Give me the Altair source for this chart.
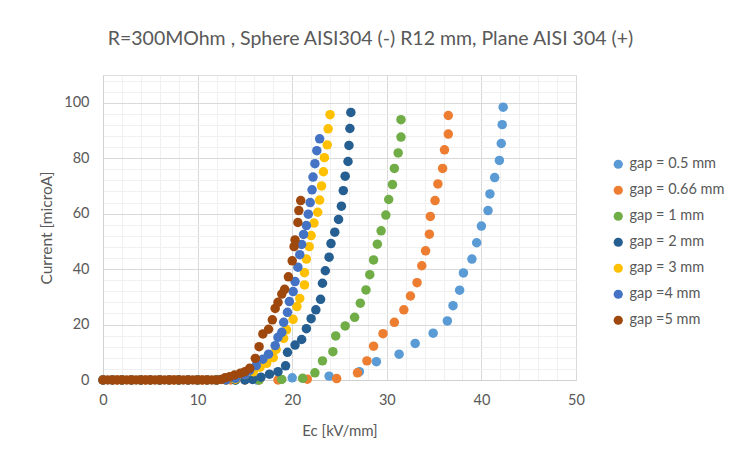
import altair as alt
import pandas as pd

series_names = ["gap = 0.5 mm", "gap = 0.66 mm", "gap = 1 mm", "gap = 2 mm",
                "gap = 3 mm", "gap =4 mm", "gap =5 mm"]
series_colors = ["#5B9BD5", "#ED7D31", "#70AD47", "#255E91", "#FFC000", "#4472C4", "#9E480E"]

# gap = 0.5 mm
x_05 = [0, 2, 4, 6, 8, 10, 12, 14, 16.3, 20.0, 23.9, 27.1, 28.9, 31.3, 33.0, 34.9, 36.4, 37.0,
        37.7, 38.1, 39.0, 39.5, 40.0, 40.7, 40.9, 41.4, 41.9, 42.1, 42.2, 42.3]
y_05 = [0, 0, 0, 0, 0, 0, 0, 0, 0, 0.8, 1.4, 3.0, 6.6, 9.3, 13.2, 16.9, 21.3, 26.8,
        32.4, 38.6, 43.6, 49.5, 55.5, 61.1, 67.1, 73.0, 79.2, 85.3, 92.1, 98.4]
# gap = 0.66 mm
x_066 = [0, 1.5, 3, 4.5, 6, 7.5, 9, 10.5, 12, 13.5, 15, 16.5, 18.5, 21.6, 24.7, 26.9, 27.9,
         28.6, 29.6, 30.8, 31.8, 32.5, 33.2, 33.7, 34.1, 34.5, 34.6, 35.1, 35.4, 35.9, 36.1,
         36.5, 36.5]
y_066 = [0, 0, 0, 0, 0, 0, 0, 0, 0, 0, 0, 0, 0, 0.3, 0.5, 2.6, 6.9,
         12.2, 16.7, 20.8, 25.3, 30.3, 35.1, 41.2, 46.6, 52.6, 59.0, 64.7, 70.7, 76.3, 83.0,
         88.7, 95.4]
# gap = 1 mm
x_1 = [0, 2, 4, 6, 8, 10, 12, 14, 16.5, 18.9, 21.1, 22.4, 23.2, 24.3, 24.6, 25.6, 26.6, 27.2,
       27.8, 28.2, 28.6, 29.0, 29.4, 29.9, 30.2, 30.6, 30.8, 31.2, 31.5, 31.5]
y_1 = [0, 0, 0, 0, 0, 0, 0, 0, 0, 0.2, 0.6, 2.6, 6.9, 10.2, 15.9, 19.5, 22.6, 27.7,
       32.5, 38.0, 43.3, 49.0, 53.8, 59.5, 65.1, 70.5, 76.3, 81.9, 87.6, 93.9]
# gap = 2 mm
x_2 = [0, 1, 2, 3, 4, 5, 6, 7, 8, 9, 10, 11, 12, 13, 14, 15, 15.8, 16.7, 17.6, 18.5, 19.3,
       19.5, 20.3, 21.0, 21.5, 22.0, 22.5, 23.0, 23.2, 23.5, 23.9, 24.1, 24.5, 24.9, 25.2,
       25.4, 25.6, 25.9, 26.0, 26.1, 26.2]
y_2 = [0, 0, 0, 0, 0, 0, 0, 0, 0, 0, 0, 0, 0, 0, 0, 0, 0.2, 1.0, 2.1, 3.0, 5.1,
       10.0, 12.6, 14.6, 18.5, 22.1, 25.3, 29.1, 34.9, 39.4, 44.3, 49.2, 53.3, 57.9, 62.7,
       68.3, 73.5, 78.8, 84.6, 90.7, 96.5]
# gap = 3 mm
x_3 = [0, 1, 2, 3, 4, 5, 6, 7, 8, 9, 10, 11, 12, 13, 14, 15.0, 15.9, 16.6, 17.3, 18.0, 18.3,
       19.1, 19.4, 20.1, 20.5, 20.8, 21.3, 21.3, 21.5, 21.8, 22.0, 22.3, 22.7, 22.9, 23.1,
       23.3, 23.4, 23.7, 23.8, 24.0]
y_3 = [0, 0, 0, 0, 0, 0, 0, 0, 0, 0, 0, 0, 0, 0, 0.3, 2.0, 3.0, 4.6, 6.0, 8.1, 11.0,
       15.0, 18.1, 21.9, 26.5, 29.4, 34.3, 38.7, 43.6, 48.1, 52.1, 56.6, 60.5, 64.9, 70.0,
       75.1, 80.2, 84.8, 90.6, 95.7]
# gap = 4 mm
x_4 = [0, 1, 2, 3, 4, 5, 6, 7, 8, 9, 10, 11, 12, 13, 14, 15.0, 15.5, 16.2, 16.9, 17.5, 18.2,
       18.5, 18.9, 19.1, 19.5, 19.7, 20.1, 20.3, 20.6, 20.8, 21.0, 21.2, 21.5, 21.7, 21.9,
       22.1, 22.2, 22.4, 22.6, 22.9]
y_4 = [0, 0, 0, 0, 0, 0, 0, 0, 0, 0, 0, 0, 0, 0, 0.6, 2.0, 3.5, 5.2, 7.5, 9.3, 12.4,
       15.4, 17.2, 20.8, 24.4, 28.3, 31.9, 35.5, 40.7, 45.2, 48.9, 52.5, 55.7, 59.8, 64.0,
       68.6, 73.2, 78.0, 82.7, 87.0]
# gap = 5 mm
x_5 = [0, 0.5, 1, 1.5, 2, 2.5, 3, 3.5, 4, 4.5, 5, 5.5, 6, 6.5, 7, 7.5, 8, 8.5, 9, 9.5, 10,
       10.5, 11, 11.5, 12, 12.5, 12.9, 13.4, 13.9, 14.5, 15.0, 15.5, 16.1, 16.5, 16.9, 17.5,
       17.9, 18.2, 18.5, 18.9, 19.2, 19.6, 20.0, 20.2, 20.3, 20.6, 20.7, 20.9]
y_5 = [0, 0, 0, 0, 0, 0, 0, 0, 0, 0, 0, 0, 0, 0, 0, 0, 0, 0, 0, 0, 0,
       0, 0, 0, 0, 0.2, 0.8, 1.2, 1.8, 2.4, 3.0, 4.2, 7.8, 12.0, 16.6, 18.3,
       21.7, 25.8, 28.0, 31.0, 32.7, 37.2, 43.0, 48.1, 50.5, 56.8, 61.1, 64.7]

x_lists = [x_05, x_066, x_1, x_2, x_3, x_4, x_5]
y_lists = [y_05, y_066, y_1, y_2, y_3, y_4, y_5]

rows = []
for i, (name, xs, ys) in enumerate(zip(series_names, x_lists, y_lists)):
    for xv, yv in zip(xs, ys):
        rows.append({"gap": name, "Ec": xv, "Current": yv, "k": i})
df = pd.DataFrame(rows)

x_ticks = list(range(0, 51, 2))
y_ticks = list(range(0, 109, 4))

FONT = "Lato"
TXT = "#595959"

chart = alt.Chart(df).mark_circle(size=90, opacity=1).encode(
    x=alt.X("Ec:Q", scale=alt.Scale(domain=[0, 50], nice=False, zero=False),
            axis=alt.Axis(values=x_ticks, labelExpr="datum.value % 10 == 0 ? datum.label : ''",
                          labelOverlap=False, labelFlush=False, ticks=False,
                          gridColor={"condition": {"test": "datum.value % 10 == 0", "value": "#d9d9d9"},
                                     "value": "#f0f0f0"},
                          domainColor="#d0d0d0", labelFont=FONT, labelFontSize=14.5,
                          labelColor=TXT, labelPadding=13, title="Ec [kV/mm]",
                          titleFont=FONT, titleFontSize=15, titleFontWeight="normal",
                          titleColor=TXT, titlePadding=17)),
    y=alt.Y("Current:Q", scale=alt.Scale(domain=[0, 110], nice=False),
            axis=alt.Axis(values=y_ticks, labelExpr="datum.value % 20 == 0 ? datum.label : ''",
                          labelOverlap=False, ticks=False,
                          gridColor={"condition": {"test": "datum.value % 20 == 0", "value": "#d9d9d9"},
                                     "value": "#f0f0f0"},
                          domainColor="#d0d0d0", labelFont=FONT, labelFontSize=14.5,
                          labelColor=TXT, labelPadding=14, title="Current [microA]",
                          titleFont=FONT, titleFontSize=15.5, titleFontWeight="normal",
                          titleColor=TXT, titlePadding=9)),
    color=alt.Color("gap:N", scale=alt.Scale(domain=series_names, range=series_colors),
                    legend=alt.Legend(title=None, orient="none", legendX=508, legendY=82,
                                      symbolType="circle", symbolSize=85, labelFont=FONT,
                                      labelFontSize=14.5, labelColor=TXT, rowPadding=11,
                                      labelOffset=4, padding=0, symbolStrokeWidth=0)),
    order=alt.Order("k:Q"),
).properties(
    width=473, height=305,
    title=alt.TitleParams("R=300MOhm , Sphere AISI304 (-) R12 mm, Plane AISI 304 (+)",
                          font=FONT, fontSize=19.5, fontWeight="normal", color=TXT,
                          anchor="middle", dx=31, offset=23),
    autosize=alt.AutoSizeParams(type="none"),
    padding={"left": 103, "top": 75, "right": 162, "bottom": 86},
).configure_view(stroke=None).configure(background="white")

chart.save("out.html", embed_options={"renderer": "svg", "actions": False})
